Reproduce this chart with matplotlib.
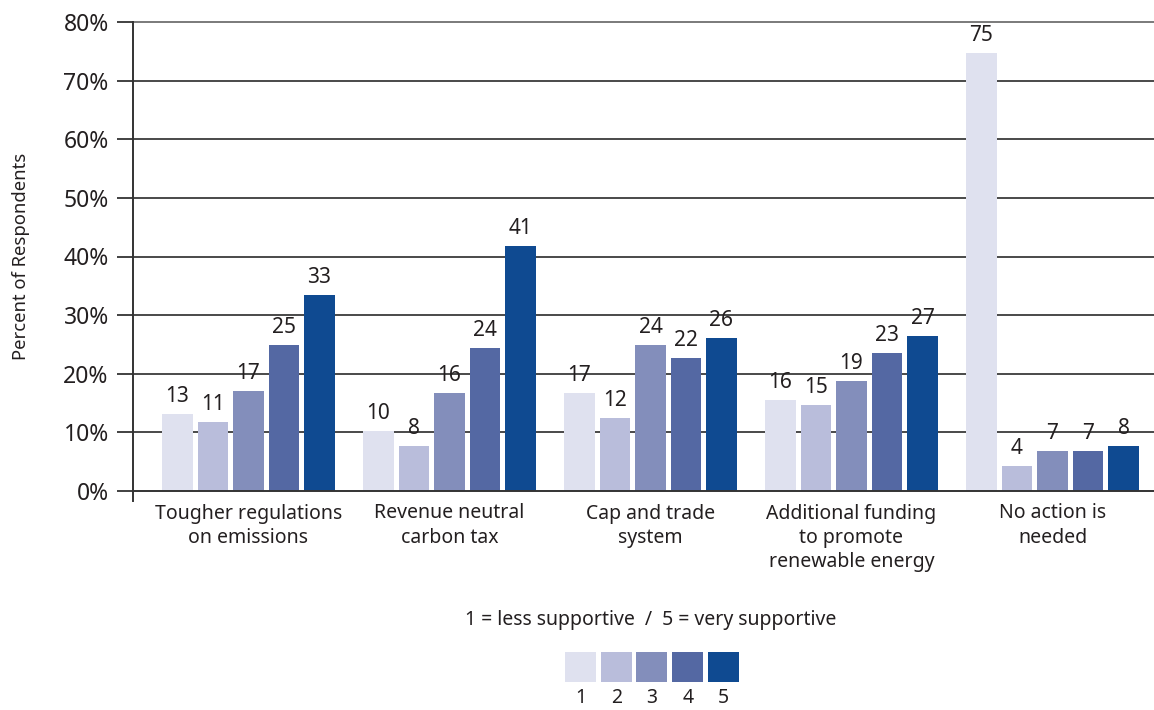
import numpy as np
import matplotlib
matplotlib.use("Agg")
import matplotlib.pyplot as plt

plt.rcParams['font.family'] = ['Noto Sans', 'DejaVu Sans']

# data
categories = ["Tougher regulations\non emissions",
              "Revenue neutral\ncarbon tax",
              "Cap and trade\nsystem",
              "Additional funding\nto promote\nrenewable energy",
              "No action is\nneeded"]
levels = ["1", "2", "3", "4", "5"]
# bar heights (percent), one list per support level
level1 = [13.1, 10.2, 16.7, 15.5, 74.7]
level2 = [11.8, 7.7, 12.5, 14.7, 4.3]
level3 = [17.1, 16.7, 24.9, 18.8, 6.8]
level4 = [24.9, 24.4, 22.7, 23.5, 6.8]
level5 = [33.4, 41.8, 26.1, 26.4, 7.7]
# printed labels above the bars
labels1 = [13, 10, 17, 16, 75]
labels2 = [11, 8, 12, 15, 4]
labels3 = [17, 16, 24, 19, 7]
labels4 = [25, 24, 22, 23, 7]
labels5 = [33, 41, 26, 27, 8]
yticks = [0, 10, 20, 30, 40, 50, 60, 70, 80]

colors = ["#dfe1ef", "#b9bddb", "#838ebb", "#5468a3", "#0f4a91"]
txt = "#231f20"

series = [level1, level2, level3, level4, level5]
series_labels = [labels1, labels2, labels3, labels4, labels5]

W, H = 1154, 710
fig = plt.figure(figsize=(W / 100, H / 100), dpi=100)
ax = fig.add_axes([133 / W, 1 - 491 / H, 1 - 133 / W, (491 - 22) / H])

x = np.arange(len(categories))
pitch = 0.1766
width = 0.154
for k, (vals, labs) in enumerate(zip(series, series_labels)):
    bars = ax.bar(x + (k - 2) * pitch, vals, width, color=colors[k], zorder=3)
    ax.bar_label(bars, labels=[str(v) for v in labs], padding=5,
                 fontsize=15, color=txt)

ax.set_xlim(-0.5746, 4.505)
ax.set_ylim(0, 80)
ax.set_yticks(yticks)
ax.set_yticklabels([f"{t}%" for t in yticks], fontsize=16.5, color=txt)
ax.tick_params(axis='y', length=11.5, width=1.3, color="#333333", pad=6)
ax.set_xticks(x)
ax.set_xticklabels(categories, fontsize=14, color=txt, linespacing=1.3)
ax.tick_params(axis='x', length=0, pad=9)

# horizontal grid
for t in yticks[1:]:
    ax.axhline(t, color="#707070" if t == 80 else "#3a3a3a", lw=1.3, zorder=1,
               clip_on=False)

for s in ['top', 'right']:
    ax.spines[s].set_visible(False)
ax.spines['left'].set_color("#333333")
ax.spines['left'].set_linewidth(1.4)
ax.spines['bottom'].set_color("#333333")
ax.spines['bottom'].set_linewidth(1.4)
ax.spines['bottom'].set_zorder(4)
# small extension of the y axis below zero
ax.plot([0, 0], [0, -0.022], transform=ax.transAxes, color="#333333",
        lw=1.4, clip_on=False)

ax.set_ylabel("Percent of Respondents", fontsize=13.3, color=txt)
ax.yaxis.set_label_coords(-0.101, 0.5)

# legend as a small strip of swatches
fig.text(651 / W, 1 - 620 / H, "1 = less supportive  /  5 = very supportive",
         ha='center', va='center', fontsize=14, color=txt)
lax = fig.add_axes([562.6 / W, 1 - 682 / H, 178.75 / W, 30 / H])
lax.bar(np.arange(5), [1] * 5, 0.867, color=colors)
lax.set_xlim(-0.5, 4.5)
lax.set_ylim(0, 1)
lax.set_xticks(np.arange(5))
lax.set_xticklabels(levels, fontsize=14, color=txt)
lax.tick_params(axis='x', length=0, pad=4)
lax.set_yticks([])
for s in lax.spines.values():
    s.set_visible(False)

fig.savefig("out.png", dpi=100)
